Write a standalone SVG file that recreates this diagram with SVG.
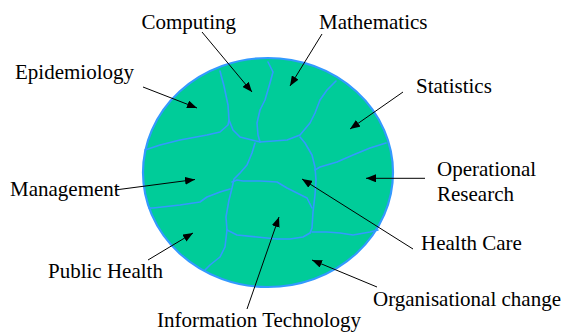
<svg xmlns="http://www.w3.org/2000/svg" width="567" height="335" viewBox="0 0 567 335">
<defs>
<style>
.div{fill:none;stroke:#3399FF;stroke-width:1.6;stroke-linejoin:round;stroke-linecap:round}
.arr{stroke:#000;stroke-width:1;fill:none;marker-end:url(#ah)}
</style>
<marker id="ah" viewBox="0 0 10 8" refX="10" refY="4" markerWidth="10" markerHeight="8" markerUnits="userSpaceOnUse" orient="auto">
<path d="M0,0 L10,4 L0,8 z" fill="#000"/>
</marker>
</defs>
<rect width="567" height="335" fill="#fff"/>
<g id="globe">
<ellipse cx="268" cy="172.5" rx="125" ry="114.5" fill="#00CC99" stroke="#3399FF" stroke-width="2.2"/>
<polyline class="div" points="220,71 224,86 228,105 229,120 233,130 240,137 252,140 260,142"/>
<polyline class="div" points="268,62 273,72 270,83 265,100 260,110 257,123 258,135 260,142"/>
<polyline class="div" points="336,81 327,90 320,100 315,113 310,123 300,135 287,140 260,142"/>
<polyline class="div" points="145,150 160,145 180,140 207,135 220,132 228,125 229,120"/>
<polyline class="div" points="300,137 305,143 312,155 315,167 316,180 315,195 313,212 312,228 310,233"/>
<polyline class="div" points="386,143 370,148 353,155 337,162 320,167 315,170"/>
<polyline class="div" points="255,143 252,153 247,165 240,173 234,179 232,188 229,200 226,217 227,230"/>
<polyline class="div" points="232,182 237,180 243,181 260,181 277,182 287,188 297,193 307,198 312,208"/>
<polyline class="div" points="230,189 220,192 207,197 200,202 180,205 153,208 149,208"/>
<polyline class="div" points="227,230 237,235 257,237 277,239 290,239 303,237 310,233"/>
<polyline class="div" points="312,232 327,232 340,233 353,235 370,232 378,230"/>
<polyline class="div" points="227,230 225,247 220,257 210,265 205,270"/>
</g>
<g id="connectors">
<line class="arr" x1="202" y1="32" x2="252" y2="92"/>
<line class="arr" x1="322" y1="34" x2="290" y2="86"/>
<line class="arr" x1="143" y1="87" x2="197" y2="108"/>
<line class="arr" x1="403" y1="92" x2="350" y2="129"/>
<line class="arr" x1="425" y1="178.3" x2="366" y2="178.3"/>
<line class="arr" x1="115" y1="190" x2="195" y2="179.5"/>
<line class="arr" x1="148" y1="260" x2="193" y2="233"/>
<line class="arr" x1="413" y1="249" x2="302" y2="179"/>
<line class="arr" x1="377" y1="287" x2="312" y2="260"/>
<line class="arr" x1="247" y1="309" x2="279" y2="217"/>
</g>
<g id="labels" font-family="Liberation Serif, serif" font-size="21" fill="#000">
<g id="computing"><text x="141.5" y="29">Computing</text></g>
<g id="mathematics"><text x="319" y="29">Mathematics</text></g>
<g id="epidemiology"><text x="15" y="79">Epidemiology</text></g>
<g id="statistics"><text x="416" y="93">Statistics</text></g>
<g id="operational-research"><text x="437" y="176">Operational</text><text x="437" y="201">Research</text></g>
<g id="management"><text x="10" y="196">Management</text></g>
<g id="public-health"><text x="48" y="278">Public Health</text></g>
<g id="health-care"><text x="421" y="250">Health Care</text></g>
<g id="organisational-change"><text x="373" y="306">Organisational change</text></g>
<g id="information-technology"><text x="157" y="326.5">Information Technology</text></g>
</g>
</svg>
